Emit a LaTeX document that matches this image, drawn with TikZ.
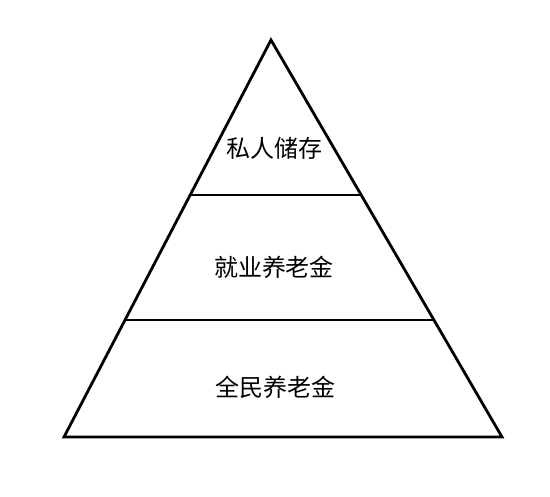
\documentclass[tikz,border=0pt]{standalone}
\usepackage{fontspec}
\newfontfamily\cjk{Noto Sans CJK SC}
\usepackage{tikz}

\begin{document}
\begin{tikzpicture}[x=1pt, y=-1pt, layer/.style={font=\cjk\fontsize{24}{26}\selectfont}]
\useasboundingbox (0, 0) rectangle (550, 497);

\draw[line width=2.8pt, line join=miter] (271, 40) -- (502, 437) -- (64, 437) -- cycle;
\draw[line width=1.7pt] (190, 195) -- (361, 195);
\draw[line width=1.7pt] (125, 320) -- (434, 320);

\node[layer] (private) at (274, 148) {私人储存};
\node[layer] (work) at (274, 267) {就业养老金};
\node[layer] (public) at (275, 387) {全民养老金};
\end{tikzpicture}
\end{document}
